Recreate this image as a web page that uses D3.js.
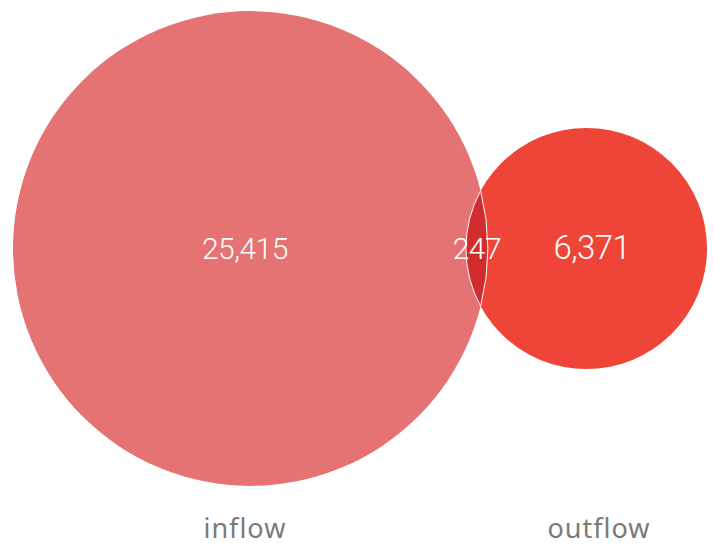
<!DOCTYPE html>
<html>
<head>
<meta charset="utf-8">
<script src="https://d3js.org/d3.v7.min.js"></script>
<style>
  body { margin: 0; background: #fff; }
  .num { fill: #fff; font-family: Roboto, sans-serif; font-weight: 300; text-anchor: middle; letter-spacing: -0.5px; }
  .setlabel { fill: #7a7a7a; font-family: "Noto Sans", "Open Sans", sans-serif; font-size: 27px; text-anchor: middle; letter-spacing: 1px; }
</style>
</head>
<body>
<div id="chart"></div>
<script>
// sets and exclusive counts as shown on the chart
var setNames = ["inflow", "outflow"];
var onlyCounts = [25415, 6371];
var bothCount = 247;
var setColors = ["#e57373", "#ef4538"];
var bothColor = "#d22d2e";

var width = 714, height = 546;
var svg = d3.select("#chart").append("svg").attr("width", width).attr("height", height);

// total size of each set includes the overlap
var totals = onlyCounts.map(function(v) { return v + bothCount; });
var radii = totals.map(function(v) { return Math.sqrt(v / Math.PI); });

function overlapArea(r1, r2, d) {
  if (d >= r1 + r2) return 0;
  if (d <= Math.abs(r1 - r2)) return Math.PI * Math.min(r1, r2) * Math.min(r1, r2);
  var a = r1 * r1 * Math.acos((d * d + r1 * r1 - r2 * r2) / (2 * d * r1));
  var b = r2 * r2 * Math.acos((d * d + r2 * r2 - r1 * r1) / (2 * d * r2));
  var c = 0.5 * Math.sqrt((-d + r1 + r2) * (d + r1 - r2) * (d - r1 + r2) * (d + r1 + r2));
  return a + b - c;
}

// bisection for the centre distance that gives the overlap
var lo = Math.abs(radii[0] - radii[1]), hi = radii[0] + radii[1];
for (var i = 0; i < 100; i++) {
  var mid = (lo + hi) / 2;
  if (overlapArea(radii[0], radii[1], mid) > bothCount) lo = mid; else hi = mid;
}
var dist = (lo + hi) / 2;
var centres = [0, dist];

var x = d3.scaleLinear()
  .domain([centres[0] - radii[0], centres[1] + radii[1]])
  .range([13, 707]);
var k = (x.range()[1] - x.range()[0]) / (x.domain()[1] - x.domain()[0]);
var cy = 248.5;

var cx = centres.map(function(c) { return x(c); });
var rr = radii.map(function(r) { return r * k; });

svg.selectAll("circle.set")
  .data(setNames)
  .enter().append("circle")
  .attr("class", "set")
  .attr("cx", function(d, i) { return cx[i]; })
  .attr("cy", cy)
  .attr("r", function(d, i) { return rr[i]; })
  .attr("fill", function(d, i) { return setColors[i]; });

// lens for the intersection
var a = (cx[1] - cx[0]);
var xi = (a * a + rr[0] * rr[0] - rr[1] * rr[1]) / (2 * a);
var yi = Math.sqrt(rr[0] * rr[0] - xi * xi);
var px = cx[0] + xi;
var lens = "M" + px + "," + (cy - yi) +
  "A" + rr[1] + "," + rr[1] + " 0 0 0 " + px + "," + (cy + yi) +
  "A" + rr[0] + "," + rr[0] + " 0 0 0 " + px + "," + (cy - yi) + "Z";
svg.append("path")
  .attr("d", lens)
  .attr("fill", bothColor)
  .attr("stroke", "#fff")
  .attr("stroke-width", 1);

// text centres
var leftEdgeB = cx[1] - rr[1], rightEdgeA = cx[0] + rr[0];
var textX = [
  ((cx[0] - rr[0] + leftEdgeB) / 2 + cx[0]) / 2,
  ((rightEdgeA + cx[1] + rr[1]) / 2 + cx[1]) / 2
];
var bothX = (leftEdgeB + rightEdgeA) / 2;
var fmt = d3.format(",");
var fontSizes = [30, 33];

svg.selectAll("text.num.only")
  .data(onlyCounts)
  .enter().append("text")
  .attr("class", "num only")
  .attr("x", function(d, i) { return textX[i]; })
  .attr("y", 259)
  .style("font-size", function(d, i) { return fontSizes[i] + "px"; })
  .text(function(d) { return fmt(d); });

svg.append("text")
  .attr("class", "num")
  .attr("x", bothX)
  .attr("y", 259)
  .style("font-size", "30px")
  .text(fmt(bothCount));

// set names under the circles
var labelShift = [0, 7];
svg.selectAll("text.setlabel")
  .data(setNames)
  .enter().append("text")
  .attr("class", "setlabel")
  .attr("x", function(d, i) { return textX[i] + labelShift[i]; })
  .attr("y", 538)
  .text(function(d) { return d; });
</script>
</body>
</html>
